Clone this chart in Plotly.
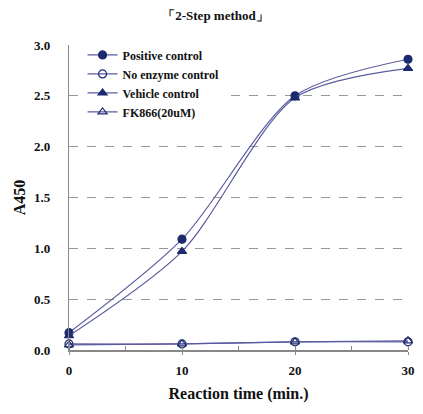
import plotly.graph_objects as go

# データ
time_min = [0, 10, 20, 30]
positive_control = [0.17, 1.09, 2.50, 2.86]
no_enzyme_control = [0.06, 0.06, 0.08, 0.08]
vehicle_control = [0.14, 0.97, 2.48, 2.77]
fk866 = [0.05, 0.06, 0.08, 0.09]

series_names = ["Positive control", "No enzyme control", "Vehicle control", "FK866(20uM)"]
series_values = [positive_control, no_enzyme_control, vehicle_control, fk866]
symbols = ["circle", "circle-open", "triangle-up", "triangle-up-open"]

line_color = "#5b5b9f"
marker_color = "#1c2a6e"
font_family = "Liberation Serif, Times New Roman, serif"

fig = go.Figure()

for name, values, sym in zip(series_names, series_values, symbols):
    fig.add_trace(go.Scatter(
        x=time_min,
        y=values,
        mode="lines+markers",
        name=name,
        line=dict(color=line_color, width=1.2, shape="spline", smoothing=0.8),
        marker=dict(symbol=sym, size=8, color=marker_color,
                    line=dict(color=marker_color, width=1.2)),
        cliponaxis=False,
    ))

# ページの body 余白 (8px) を考慮してサイズを調整
fig.update_layout(
    width=415,
    height=406,
    margin=dict(l=61, r=15, t=37, b=64),
    paper_bgcolor="white",
    plot_bgcolor="white",
    font=dict(family=font_family, size=13, color="#111111"),
    title=dict(text="「2-Step method」", x=0.5, xanchor="center",
               y=0.993, yanchor="top",
               font=dict(size=13, weight="bold")),
    showlegend=True,
    legend=dict(x=0.04, y=1.015, xanchor="left", yanchor="top",
                bgcolor="white", borderwidth=0,
                font=dict(size=12, family=font_family, weight="bold"),
                itemwidth=30, tracegroupgap=0),
)

fig.update_xaxes(
    range=[0, 30],
    tickvals=[0, 10, 20, 30],
    ticks="outside", ticklen=3, tickcolor="#888888",
    minor=dict(dtick=5, ticks="inside", ticklen=4, tickcolor="#888888", showgrid=False),
    showline=True, linecolor="#888888", linewidth=1.5,
    showgrid=False, zeroline=False,
    title=dict(text="Reaction time (min.)", standoff=10, font=dict(weight="bold")),
    ticklabelstandoff=5,
    tickfont=dict(size=13, weight="bold"),
    automargin=False,
)

fig.update_yaxes(
    range=[0, 3],
    tickvals=[0, 0.5, 1.0, 1.5, 2.0, 2.5, 3.0],
    tickformat=".1f",
    ticks="", showline=True, linecolor="#888888", linewidth=1.2,
    showgrid=True, gridcolor="#999999", griddash="dash", gridwidth=1,
    zeroline=False,
    title=dict(text="A450", standoff=4, font=dict(weight="bold")),
    ticklabelstandoff=15,
    tickfont=dict(size=13, weight="bold"),
    automargin=False,
)

fig.write_html("out.html")
